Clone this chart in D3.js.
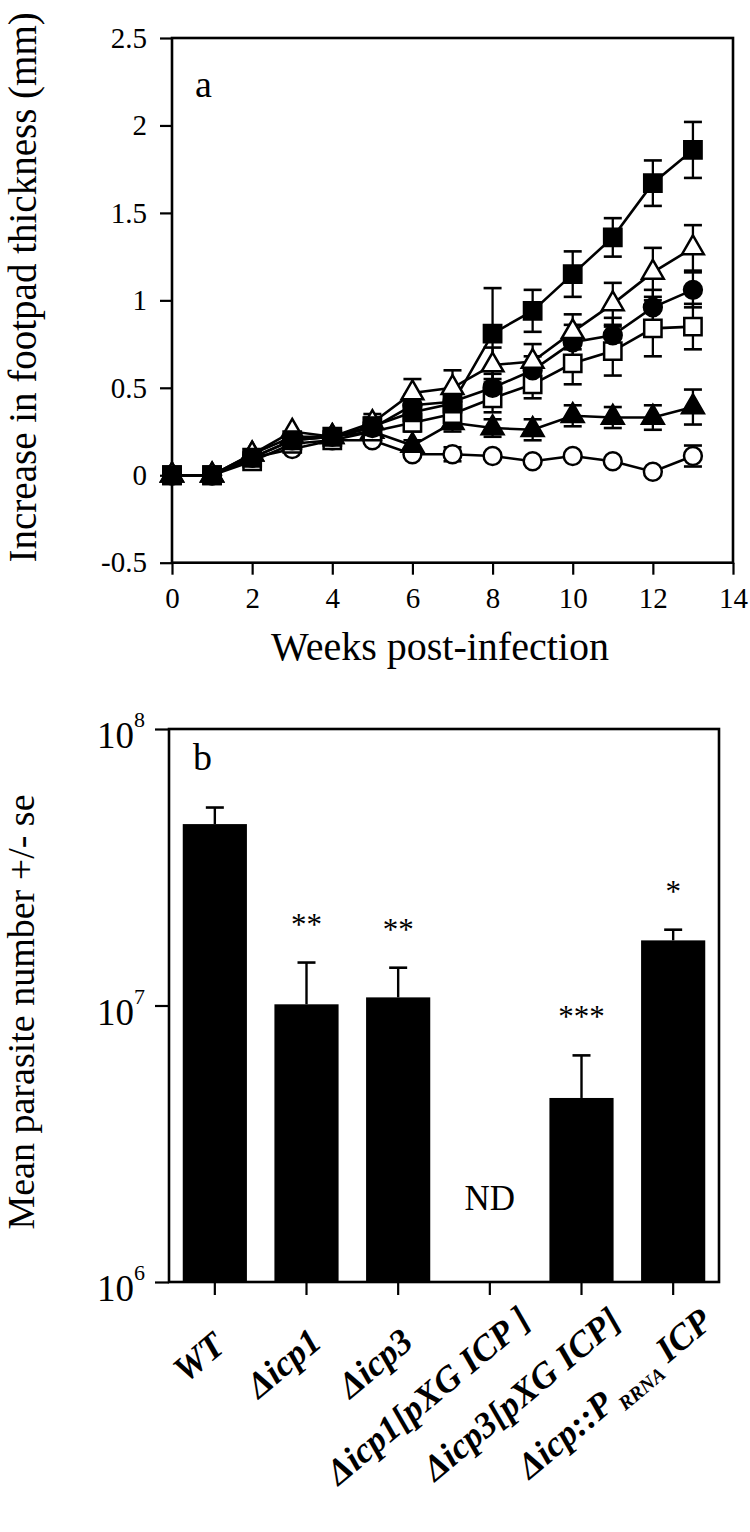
<!DOCTYPE html>
<html><head><meta charset="utf-8">
<script src="https://cdn.jsdelivr.net/npm/d3@7"></script>
<style>
body{margin:0;background:#fff}
svg{display:block}
text{font-family:"Liberation Serif","Times New Roman",serif;fill:#000}
</style>
</head><body>
<svg id="chart" width="750" height="1532"></svg>
<script>
// ---------- Panel a data ----------
const weeks = [0,1,2,3,4,5,6,7,8,9,10,11,12,13];
const xTicksA = [0,2,4,6,8,10,12,14];
const yTicksA = [-0.5,0,0.5,1,1.5,2,2.5];
const filledSquare    = [0,0,0.10,0.20,0.22,0.28,0.36,0.41,0.81,0.94,1.15,1.36,1.67,1.86];
const filledSquareErr = [0,0,0,0,0,0.05,0.05,0.06,0.26,0.12,0.13,0.11,0.13,0.16];
const openTriangle    = [0,0,0.12,0.25,0.22,0.30,0.47,0.50,0.63,0.65,0.82,0.98,1.16,1.30];
const openTriangleErr = [0,0,0,0,0,0.05,0.08,0.10,0.10,0.10,0.10,0.12,0.14,0.13];
const filledCircle    = [0,0,0.10,0.20,0.22,0.27,0.40,0.42,0.50,0.60,0.76,0.80,0.96,1.06];
const filledCircleErr = [0,0,0,0,0,0.04,0.06,0.06,0.08,0.08,0.10,0.10,0.10,0.10];
const openSquare      = [0,0,0.08,0.18,0.20,0.25,0.30,0.35,0.44,0.52,0.64,0.71,0.84,0.85];
const openSquareErr   = [0,0,0,0,0,0.04,0.05,0.06,0.08,0.08,0.12,0.14,0.16,0.13];
const filledTriangle    = [0,0,0.12,0.22,0.22,0.25,0.17,0.30,0.27,0.26,0.34,0.33,0.33,0.39];
const filledTriangleErr = [0,0,0,0,0,0.03,0.03,0.05,0.05,0.06,0.06,0.06,0.07,0.10];
const openCircle      = [0,0,0.10,0.15,0.20,0.20,0.12,0.12,0.11,0.08,0.11,0.08,0.02,0.11];
const openCircleErr   = [0,0,0,0,0,0,0,0.04,0,0,0,0,0,0.06];

// ---------- Panel b data ----------
const categories = ["WT","Δicp1","Δicp3","Δicp1[pXG ICP ]","Δicp3[pXG ICP]","Δicp::P RRNA ICP"];
const parasiteMean  = [4.53e7, 1.01e7, 1.07e7, null, 4.63e6, 1.72e7];
const parasiteUpper = [5.2e7, 1.43e7, 1.37e7, null, 6.6e6, 1.88e7];
const significance  = ["", "**", "**", "ND", "***", "*"];
const yTicksB = [1e6, 1e7, 1e8];
const yTickExpB = ["6","7","8"];

// ---------- drawing ----------
const svg = d3.select("#chart");
const series = [
  {v: openCircle, e: openCircleErr, shape: d3.symbolCircle, fill: false},
  {v: filledTriangle, e: filledTriangleErr, shape: d3.symbolTriangle, fill: true},
  {v: openSquare, e: openSquareErr, shape: d3.symbolSquare, fill: false},
  {v: filledCircle, e: filledCircleErr, shape: d3.symbolCircle, fill: true},
  {v: openTriangle, e: openTriangleErr, shape: d3.symbolTriangle, fill: false},
  {v: filledSquare, e: filledSquareErr, shape: d3.symbolSquare, fill: true}
];
const symSize = s => s === d3.symbolSquare ? 300 : (s === d3.symbolCircle ? 250 : 205);

// Panel a
const xA = d3.scaleLinear([0,14],[172,733]);
const yA = d3.scaleLinear([-0.5,2.5],[562.7,38]);
const gA = svg.append("g");

const axA_y = gA.append("g").attr("transform",`translate(${xA(0)},0)`)
  .call(d3.axisLeft(yA).tickValues(yTicksA).tickSize(12).tickPadding(13).tickFormat(d=>String(d)));
const axA_x = gA.append("g").attr("transform",`translate(0,${yA(-0.5)})`)
  .call(d3.axisBottom(xA).tickValues(xTicksA).tickSize(12).tickPadding(13).tickFormat(d=>String(d)));
[axA_y, axA_x].forEach(a=>{
  a.select(".domain").remove();
  a.selectAll(".tick line").attr("stroke","#000").attr("stroke-width",2.2);
  a.selectAll(".tick text").attr("font-size",29).attr("font-family","Liberation Serif").attr("fill","#000");
});
gA.append("rect").attr("x",xA(0)).attr("y",yA(2.5)).attr("width",xA(14)-xA(0)).attr("height",yA(-0.5)-yA(2.5))
  .attr("fill","none").attr("stroke","#000").attr("stroke-width",2.6);

const line = d3.line().x((d,i)=>xA(weeks[i])).y(d=>yA(d));
series.forEach(s=>{
  gA.append("path").attr("d",line(s.v)).attr("fill","none").attr("stroke","#000").attr("stroke-width",2.6);
});
series.forEach(s=>{
  s.v.forEach((d,i)=>{
    const e = s.e[i]; if(!e) return;
    const cx = xA(weeks[i]);
    gA.append("line").attr("x1",cx).attr("x2",cx).attr("y1",yA(d-e)).attr("y2",yA(d+e)).attr("stroke","#000").attr("stroke-width",2.3);
    [d-e,d+e].forEach(t=>gA.append("line").attr("x1",cx-9).attr("x2",cx+9).attr("y1",yA(t)).attr("y2",yA(t)).attr("stroke","#000").attr("stroke-width",2.6));
  });
});
series.forEach(s=>{
  gA.selectAll(null).data(s.v).join("path")
    .attr("transform",(d,i)=>`translate(${xA(weeks[i])},${yA(d)})`)
    .attr("d",d3.symbol().type(s.shape).size(symSize(s.shape)))
    .attr("fill",s.fill?"#000":"#fff").attr("stroke","#000").attr("stroke-width",2.5);
});
gA.append("text").attr("x",195).attr("y",97).attr("font-size",38).text("a");
gA.append("text").attr("x",440).attr("y",660).attr("text-anchor","middle").attr("font-size",40).text("Weeks post-infection");
gA.append("g").attr("transform",`translate(36,${(yA(2.5)+yA(-0.5))/2-13}) rotate(-90)`)
  .append("text").attr("text-anchor","middle").attr("font-size",39).text("Increase in footpad thickness (mm)");

// Panel b
const xB = d3.scaleBand(categories,[169,719]).paddingInner(0.3).paddingOuter(0.15);
const yB = d3.scaleLog([1e6,1e8],[1282,729]);
const gB = svg.append("g");
const axB_y = gB.append("g").attr("transform",`translate(${xB.range()[0]},0)`)
  .call(d3.axisLeft(yB).tickValues(yTicksB).tickSize(14).tickPadding(10).tickFormat(""));
axB_y.select(".domain").remove();
axB_y.selectAll(".tick line").attr("stroke","#000").attr("stroke-width",2.2);
axB_y.selectAll(".tick").each(function(d,i){
  const t = d3.select(this).append("text").attr("x",-24).attr("y",0).attr("dy","0.5em")
    .attr("text-anchor","end").attr("font-size",37).attr("fill","#000");
  t.append("tspan").text("10");
  t.append("tspan").attr("font-size",22).attr("dy","-0.95em").text(yTickExpB[i]);
});
const axB_x = gB.append("g").attr("transform",`translate(0,${yB(1e6)})`)
  .call(d3.axisBottom(xB).tickSize(13).tickFormat(""));
axB_x.select(".domain").remove();
axB_x.selectAll(".tick line").attr("stroke","#000").attr("stroke-width",2.2);

gB.selectAll(null).data(categories).join("rect")
  .filter((d,i)=>parasiteMean[i]!=null)
  .attr("x",d=>xB(d)).attr("width",xB.bandwidth())
  .attr("y",d=>yB(parasiteMean[categories.indexOf(d)]))
  .attr("height",d=>yB(1e6)-yB(parasiteMean[categories.indexOf(d)]))
  .attr("fill","#000");
categories.forEach((c,i)=>{
  const cx = xB(c)+xB.bandwidth()/2;
  if(parasiteMean[i]!=null){
    gB.append("line").attr("x1",cx).attr("x2",cx).attr("y1",yB(parasiteMean[i])).attr("y2",yB(parasiteUpper[i])).attr("stroke","#000").attr("stroke-width",2.4);
    gB.append("line").attr("x1",cx-9).attr("x2",cx+9).attr("y1",yB(parasiteUpper[i])).attr("y2",yB(parasiteUpper[i])).attr("stroke","#000").attr("stroke-width",2.6);
    if(significance[i]) gB.append("text").attr("x",cx).attr("y",yB(parasiteUpper[i])-28).attr("text-anchor","middle").attr("font-size",31).text(significance[i]);
  } else {
    gB.append("text").attr("x",cx).attr("y",1210).attr("text-anchor","middle").attr("font-size",35).text(significance[i]);
  }
});
gB.append("rect").attr("x",xB.range()[0]).attr("y",yB(1e8)).attr("width",xB.range()[1]-xB.range()[0]).attr("height",yB(1e6)-yB(1e8))
  .attr("fill","none").attr("stroke","#000").attr("stroke-width",2.6);
gB.append("text").attr("x",193).attr("y",770).attr("font-size",38).text("b");
gB.append("g").attr("transform",`translate(34,1012) rotate(-90)`)
  .append("text").attr("text-anchor","middle").attr("font-size",38).text("Mean parasite number +/- se");

// rotated category labels
const ang = 40, ca = Math.cos(ang*Math.PI/180), sa = Math.sin(ang*Math.PI/180);
categories.forEach((c,i)=>{
  const cx = xB(c)+xB.bandwidth()/2;
  const g = gB.append("g");
  const t = g.append("text").attr("x",0).attr("y",0).attr("text-anchor","end").attr("font-size",36)
    .attr("font-weight","bold").attr("font-style","italic");
  if(c.includes("RRNA")){
    const parts = c.split(" RRNA ");
    t.append("tspan").text(parts[0]);
    t.append("tspan").attr("font-size",20).attr("dy",9).text(" RRNA");
    t.append("tspan").attr("dy",-9).text(" "+parts[1]);
  } else t.text(c);
  const len = t.node().getComputedTextLength();
  const s = 0.2*len;
  const bx = cx + 4 + s*ca, by = 1356 - s*sa;
  g.attr("transform",`translate(${bx.toFixed(1)},${by.toFixed(1)}) rotate(-40)`);
});
</script>
</body></html>
